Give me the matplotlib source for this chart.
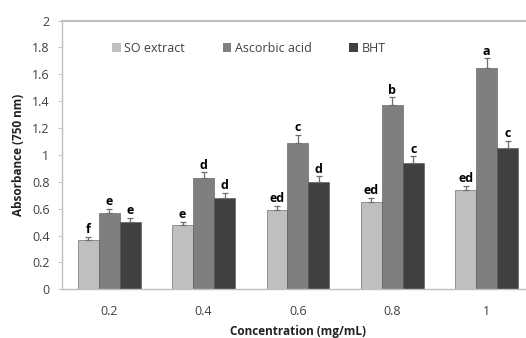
import matplotlib
matplotlib.use("Agg")
import matplotlib.pyplot as plt
import numpy as np

plt.rcParams['font.family'] = ['Open Sans', 'DejaVu Sans']

concentrations = ["0.2", "0.4", "0.6", "0.8", "1"]
series_names = ["SO extract", "Ascorbic acid", "BHT"]
so_extract = [0.37, 0.48, 0.59, 0.65, 0.74]
ascorbic_acid = [0.57, 0.83, 1.09, 1.37, 1.65]
bht = [0.50, 0.68, 0.80, 0.94, 1.05]
so_err = [0.02, 0.02, 0.03, 0.03, 0.03]
asc_err = [0.03, 0.04, 0.06, 0.06, 0.07]
bht_err = [0.03, 0.04, 0.04, 0.05, 0.055]
so_letters = ["f", "e", "ed", "ed", "ed"]
asc_letters = ["e", "d", "c", "b", "a"]
bht_letters = ["e", "d", "d", "c", "c"]
y_ticks = [0, 0.2, 0.4, 0.6, 0.8, 1, 1.2, 1.4, 1.6, 1.8, 2]
y_tick_labels = ["0", "0.2", "0.4", "0.6", "0.8", "1", "1.2", "1.4", "1.6", "1.8", "2"]

colors = ["#bfbfbf", "#7f7f7f", "#404040"]

fig = plt.figure(figsize=(5.26, 3.38), dpi=100)
ax = fig.add_axes([0.1179, 0.144, 0.897, 0.795])

x = np.arange(len(concentrations))
w = 0.222
values = [so_extract, ascorbic_acid, bht]
errs = [so_err, asc_err, bht_err]
letters = [so_letters, asc_letters, bht_letters]

for i, (vals, err, lab, col, name) in enumerate(zip(values, errs, letters, colors, series_names)):
    pos = x + (i - 1) * w
    ax.bar(pos, vals, width=w, color=col, edgecolor="#555555", linewidth=0.4, label=name, zorder=2)
    ax.errorbar(pos, vals, yerr=[np.zeros(len(vals)), err], fmt="none",
                ecolor="#6f6f6f", elinewidth=0.9, capsize=2, capthick=0.9, zorder=3)
    for p, v, e, t in zip(pos, vals, err, lab):
        ax.text(p, v + e + 0.005, t, ha="center", va="bottom",
                fontsize=9, fontweight="bold", color="black", zorder=4)

ax.set_xlim(-0.5, len(concentrations) - 0.5)
ax.set_ylim(0, 2)
ax.set_yticks(y_ticks)
ax.set_yticklabels(y_tick_labels)
ax.set_xticks(x)
ax.set_xticklabels(concentrations)
ax.tick_params(axis="y", length=3, width=0.6, color="#bfbfbf", labelsize=9,
               labelcolor="#404040", pad=6)
ax.tick_params(axis="x", length=0, labelsize=9, labelcolor="#404040", pad=11)

for side in ["left", "bottom", "top"]:
    ax.spines[side].set_color("#bfbfbf")
    ax.spines[side].set_linewidth(1.0)
ax.spines["top"].set_linewidth(1.6)
ax.spines["right"].set_visible(False)

ax.set_ylabel("Absorbance (750 nm)", fontsize=8.5, fontweight="bold", color="#222222", labelpad=5)
ax.set_xlabel("Concentration (mg/mL)", fontsize=8.5, fontweight="bold", color="#222222", labelpad=5)

leg = ax.legend(loc="upper left", bbox_to_anchor=(0.095, 0.94), ncol=3, frameon=False,
                fontsize=9, handlelength=0.7, handleheight=0.7, handletextpad=0.3,
                columnspacing=3.0, borderaxespad=0)
for t in leg.get_texts():
    t.set_color("#404040")
for h in leg.legend_handles:
    h.set_linewidth(0)

fig.savefig("out.png", dpi=100)
